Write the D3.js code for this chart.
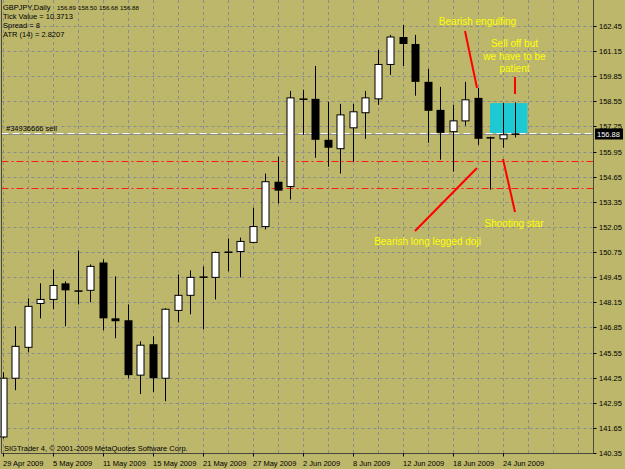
<!doctype html>
<html lang="en">
<head>
<meta charset="utf-8">
<title>GBPJPY Daily</title>
<style>
  * { margin: 0; padding: 0; box-sizing: border-box; }
  body { background: #bdb76b; }
  svg { display: block; font-family: 'Liberation Sans', Arial, sans-serif; }
</style>
</head>
<body>
<div id="container"></div>
<script src="https://cdn.jsdelivr.net/npm/d3@7/dist/d3.min.js"></script>
<script>
// daily bars
const dates = ['29 Apr 2009','30 Apr 2009','1 May 2009','4 May 2009','5 May 2009','6 May 2009','7 May 2009','8 May 2009',
  '11 May 2009','12 May 2009','13 May 2009','14 May 2009','15 May 2009','18 May 2009','19 May 2009','20 May 2009',
  '21 May 2009','22 May 2009','25 May 2009','26 May 2009','27 May 2009','28 May 2009','29 May 2009','1 Jun 2009',
  '2 Jun 2009','3 Jun 2009','4 Jun 2009','5 Jun 2009','8 Jun 2009','9 Jun 2009','10 Jun 2009','11 Jun 2009',
  '12 Jun 2009','15 Jun 2009','16 Jun 2009','17 Jun 2009','18 Jun 2009','19 Jun 2009','22 Jun 2009','23 Jun 2009',
  '24 Jun 2009','25 Jun 2009'];
const opens  = [141.18,144.22,145.82,148.09,148.30,149.13,148.77,148.77,150.21,147.32,147.22,144.38,145.98,144.22,147.73,148.51,
  149.49,149.44,150.78,150.78,151.25,152.07,154.39,154.14,158.70,158.68,156.56,156.10,157.18,157.96,158.68,160.46,
  161.88,161.52,159.56,158.11,156.98,157.54,158.73,156.70,156.61,156.89];
const highs  = [144.53,146.91,148.35,149.13,149.85,149.23,150.83,150.11,150.37,149.49,148.04,146.13,146.39,147.84,149.59,149.80,
  150.01,150.78,151.45,151.50,153.05,154.81,155.69,159.09,159.15,160.38,158.53,158.42,158.42,159.09,161.21,161.99,
  162.50,161.99,160.23,159.30,158.37,159.56,159.25,156.72,158.47,158.50];
const lows   = [141.10,143.60,145.56,147.32,147.79,146.91,148.04,148.15,146.70,146.29,144.22,143.40,143.50,143.03,147.11,147.53,
  146.75,148.30,149.75,149.44,151.20,151.92,153.26,153.47,156.82,155.63,155.17,154.81,155.43,156.61,158.37,159.92,
  160.38,158.84,156.41,155.53,154.91,157.29,156.30,153.98,156.15,156.68];
const closes = [144.22,145.87,147.94,148.30,149.02,148.77,148.72,150.01,147.32,147.17,144.38,145.93,144.22,147.79,148.51,149.44,
  149.44,150.73,150.75,151.30,152.07,154.39,153.93,158.73,158.66,156.56,156.15,157.85,158.01,158.73,160.46,161.88,
  161.52,159.56,158.06,156.92,157.54,158.63,156.61,156.66,156.82,156.88];

const priceTicks = [162.45,161.15,159.85,158.55,157.25,155.95,154.65,153.35,152.05,150.75,149.45,148.15,146.85,145.55,144.25,142.95,141.65,140.35];
const symbolLabel = 'GBPJPY,Daily';
const lastBar = ['156.89', '158.50', '156.68', '156.88'];
const infoLines = ['Tick Value = 10.3713', 'Spread = 8', 'ATR (14) = 2.8207'];
const stopLevels = [155.46, 154.06];
const bidPrice = 156.88;
const orderPrice = 156.92;
const orderLabel = '#34936666 sell';
const zoneIdx = [39, 42];
const zonePrice = [158.46, 156.91];

// callouts in bar index / price units
const calloutLines = [
  [[37, 162.19], [37.96, 159.24]],
  [[41, 159.81], [41, 158.93]],
  [[33, 151.84], [37.96, 155.10]],
  [[40.04, 155.57], [41, 152.82]]
];
const calloutTexts = [
  {i: 38, p: 162.50, t: 'Bearish engulfing'},
  {i: 40.96, p: 161.36, t: 'Sell off but'},
  {i: 40.96, p: 160.69, t: 'we have to be'},
  {i: 40.96, p: 160.07, t: 'patient'},
  {i: 34, p: 151.12, t: 'Bearish long legged doji'},
  {i: 40.92, p: 152.05, t: 'Shooting star'}
];

const W = 625, H = 469;
const plot = {left: 1.5, right: 593.5, bottom: 453.5};
const gridColor = '#8a8d90';

const x = d3.scaleLinear().domain([0, dates.length - 1]).range([2.5, 515]);
const y = d3.scaleLinear().domain([140.35, 162.45]).range([453, 26]);
const crisp = v => Math.round(v) + 0.5;

const svg = d3.select('#container').append('svg')
  .attr('width', W).attr('height', H);

svg.append('rect').attr('width', W).attr('height', H).attr('fill', '#bdb76b');

// vertical grid every 2 bars, running past the last bar
const gridIdx = d3.range(0, x.invert(plot.right), 2);
svg.append('g').selectAll('line').data(gridIdx).enter().append('line')
  .attr('x1', d => crisp(x(d))).attr('x2', d => crisp(x(d)))
  .attr('y1', 0).attr('y2', plot.bottom)
  .attr('stroke', gridColor).attr('stroke-dasharray', '3,3');

svg.append('g').selectAll('line').data(priceTicks).enter().append('line')
  .attr('x1', plot.left).attr('x2', plot.right)
  .attr('y1', d => crisp(y(d))).attr('y2', d => crisp(y(d)))
  .attr('stroke', gridColor).attr('stroke-dasharray', '3,3');

// cyan zone
svg.append('rect')
  .attr('x', x(zoneIdx[0])).attr('y', y(zonePrice[0]))
  .attr('width', x(zoneIdx[1]) - x(zoneIdx[0]))
  .attr('height', y(zonePrice[1]) - y(zonePrice[0]))
  .attr('fill', '#1fc9d3');

// stop levels
svg.append('g').selectAll('line').data(stopLevels).enter().append('line')
  .attr('x1', plot.left).attr('x2', plot.right)
  .attr('y1', d => crisp(y(d))).attr('y2', d => crisp(y(d)))
  .attr('stroke', '#ff1a1a').attr('stroke-dasharray', '7,3,2,3');

// bid line and order line
svg.append('line')
  .attr('x1', plot.left).attr('x2', plot.right)
  .attr('y1', crisp(y(bidPrice))).attr('y2', crisp(y(bidPrice)))
  .attr('stroke', '#8c8c8c');
svg.append('line')
  .attr('x1', plot.left).attr('x2', plot.right)
  .attr('y1', crisp(y(orderPrice))).attr('y2', crisp(y(orderPrice)))
  .attr('stroke', '#ffffff').attr('stroke-dasharray', '7,4');
svg.append('text').attr('x', 6).attr('y', crisp(y(orderPrice)) - 3)
  .attr('font-size', 7.5).attr('fill', '#000').text(orderLabel);

// candles
const bars = d3.range(dates.length);
const up = i => closes[i] > opens[i];
const candles = svg.append('g').selectAll('g').data(bars).enter().append('g');
candles.append('line')
  .attr('x1', i => crisp(x(i))).attr('x2', i => crisp(x(i)))
  .attr('y1', i => y(highs[i])).attr('y2', i => y(lows[i]))
  .attr('stroke', '#000');
candles.append('rect')
  .attr('x', i => up(i) ? Math.round(x(i)) - 3 : Math.round(x(i)) - 3.5)
  .attr('y', i => Math.min(y(opens[i]), y(closes[i])))
  .attr('width', i => up(i) ? 7 : 8)
  .attr('height', i => Math.max(1.5, Math.abs(y(opens[i]) - y(closes[i]))))
  .attr('fill', i => up(i) ? '#fff' : '#000')
  .attr('stroke', '#000').attr('stroke-width', i => up(i) ? 1 : 0);

// callouts
svg.append('g').selectAll('line').data(calloutLines).enter().append('line')
  .attr('x1', d => x(d[0][0])).attr('y1', d => y(d[0][1]))
  .attr('x2', d => x(d[1][0])).attr('y2', d => y(d[1][1]))
  .attr('stroke', '#ff0000').attr('stroke-width', 2);
svg.append('g').selectAll('text').data(calloutTexts).enter().append('text')
  .attr('x', d => x(d.i)).attr('y', d => y(d.p))
  .attr('text-anchor', 'middle').attr('font-size', 10).attr('fill', '#ffff00')
  .text(d => d.t);

// frame
svg.append('path')
  .attr('d', `M${plot.left},0V${plot.bottom}H${plot.right}V0`)
  .attr('fill', 'none').attr('stroke', '#4a4a3a');

// price axis
const pa = svg.append('g');
pa.selectAll('line').data(priceTicks).enter().append('line')
  .attr('x1', plot.right).attr('x2', plot.right + 3)
  .attr('y1', d => crisp(y(d))).attr('y2', d => crisp(y(d)))
  .attr('stroke', '#000');
pa.selectAll('text').data(priceTicks).enter().append('text')
  .attr('x', 599).attr('y', d => Math.round(y(d)) + 3)
  .attr('font-size', 7.5).attr('fill', '#000')
  .text(d => d.toFixed(2));
pa.append('rect').attr('x', 595).attr('y', Math.round(y(bidPrice)) - 5.5)
  .attr('width', 28).attr('height', 11).attr('fill', '#000');
pa.append('text').attr('x', 597).attr('y', Math.round(y(bidPrice)) + 3)
  .attr('font-size', 7.5).attr('fill', '#fff').text(bidPrice.toFixed(2));

// date axis
const dateIdx = bars.filter(i => i % 4 === 0);
const da = svg.append('g');
da.selectAll('line').data(dateIdx).enter().append('line')
  .attr('x1', i => crisp(x(i))).attr('x2', i => crisp(x(i)))
  .attr('y1', plot.bottom).attr('y2', plot.bottom + 3)
  .attr('stroke', '#000');
da.selectAll('text').data(dateIdx).enter().append('text')
  .attr('x', i => Math.round(x(i))).attr('y', 466)
  .attr('font-size', 7.5).attr('fill', '#000')
  .text(i => dates[i]);

// header and footer text
const head = svg.append('g').attr('font-size', 7.5).attr('fill', '#000');
head.append('text').attr('x', 3).attr('y', 10).text(symbolLabel);
head.selectAll('text.ohlc').data(lastBar).enter().append('text')
  .attr('class', 'ohlc')
  .attr('x', (d, k) => 57 + k * 21).attr('y', 10)
  .attr('font-size', 6.2)
  .text(d => d);
head.selectAll('text.info').data(infoLines).enter().append('text')
  .attr('class', 'info')
  .attr('x', 3).attr('y', (d, k) => 19 + k * 9).text(d => d);
svg.append('text').attr('x', 4).attr('y', 451)
  .attr('font-size', 7.5).attr('fill', '#000')
  .text('SIGTrader 4, \u00a9 2001-2009 MetaQuotes Software Corp.');
</script>
</body>
</html>
